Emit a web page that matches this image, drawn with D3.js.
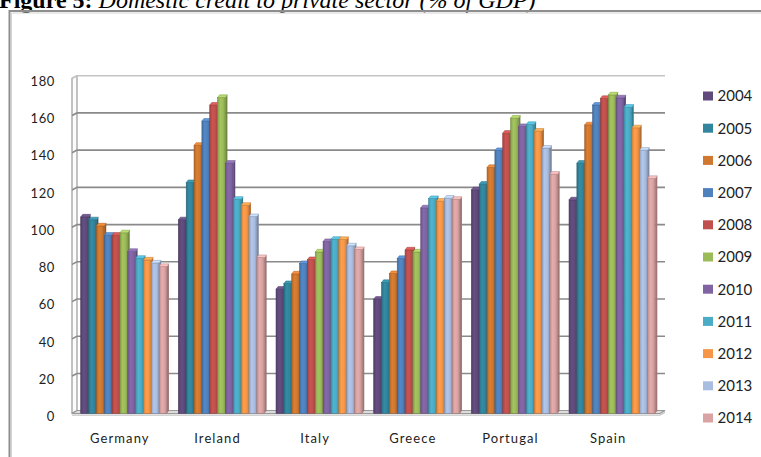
<!DOCTYPE html>
<html>
<head>
<meta charset="utf-8">
<script src="https://cdn.jsdelivr.net/npm/d3@7/dist/d3.min.js"></script>
<style>
  html, body { margin: 0; padding: 0; background: #fff; }
  svg { display: block; }
</style>
</head>
<body>
<svg id="chart" width="761" height="457"></svg>
<script>
// ---- data ----
const countries = ["Germany", "Ireland", "Italy", "Greece", "Portugal", "Spain"];
const years = ["2004", "2005", "2006", "2007", "2008", "2009", "2010", "2011", "2012", "2013", "2014"];
const germany  = [105.5, 104, 100.7, 95.7, 95.7, 97, 87, 83.3, 82.4, 80.8, 78.9];
const ireland  = [104, 124, 144, 157, 165.6, 169.7, 134.4, 115, 111.8, 105.7, 83.7];
const italy    = [66.7, 69.7, 74.9, 80.5, 82.6, 86.7, 92.3, 93.5, 93.4, 90, 88];
const greece   = [61.3, 70.3, 75.1, 83.2, 87.8, 86.7, 110.4, 115.4, 114, 115.6, 115];
const portugal = [120.1, 123.1, 132.1, 141.2, 150.5, 158.6, 154.1, 155.2, 151.6, 142.5, 128.5];
const spain    = [114.7, 134.4, 155, 165.6, 169.2, 171.1, 169.5, 164.5, 153.4, 141.4, 126.2];
const yTicks = [0, 20, 40, 60, 80, 100, 120, 140, 160, 180];
const colors = ["#604a7b", "#31859c", "#d0782f", "#4f81bd", "#c0504d", "#9bbb59",
                "#8064a2", "#4bacc6", "#f79646", "#a9bde0", "#daa3a3"];

const seriesByCountry = [germany, ireland, italy, greece, portugal, spain];
const rows = countries.map((c, i) => ({ country: c, values: seriesByCountry[i] }));

// ---- layout ----
const svg = d3.select("#chart");
const DX = 5, DY = -2.6;           // depth offset of back wall
const frontLeft = 72, backRight = 665;

const y = d3.scaleLinear().domain([0, 180]).range([413.3, 78.3]);
const x0 = d3.scaleBand().domain(countries).range([75, 661]).paddingInner(0.117).paddingOuter(0.0585);
const x1 = d3.scaleBand().domain(years).range([0, x0.bandwidth()]);
const color = d3.scaleOrdinal().domain(years).range(colors);

// ---- title ----
const title = svg.append("text")
  .attr("x", -1).attr("y", 7.5)
  .attr("font-family", "'Liberation Serif', 'Times New Roman', serif")
  .attr("font-size", 24).attr("fill", "#000");
title.append("tspan").attr("font-weight", "bold").text("Figure 5:");
title.append("tspan").attr("font-style", "italic").text(" Domestic credit to private sector (% of GDP)");

// ---- outer frame ----
svg.append("path").attr("d", "M9.5,470 V11 H780").attr("fill", "none")
  .attr("stroke", "#8e8e8e").attr("stroke-width", 2);
svg.append("path").attr("d", "M11.5,470 V13 H780").attr("fill", "none")
  .attr("stroke", "#d4d4d4").attr("stroke-width", 1);

// ---- defs: gradients ----
const defs = svg.append("defs");
colors.forEach((c, i) => {
  const g = defs.append("linearGradient").attr("id", "g" + i)
    .attr("x1", "0%").attr("x2", "100%").attr("y1", "0%").attr("y2", "0%");
  const base = d3.color(c);
  g.append("stop").attr("offset", "0%").attr("stop-color", base.darker(0.45));
  g.append("stop").attr("offset", "35%").attr("stop-color", base.brighter(0.15));
  g.append("stop").attr("offset", "70%").attr("stop-color", base);
  g.append("stop").attr("offset", "100%").attr("stop-color", base.darker(0.5));
});

// ---- walls ----
svg.append("path")
  .attr("d", `M${frontLeft},${y(0)} V${y(180)} L${frontLeft + DX},${y(180) + DY} V${y(0) + DY} Z`)
  .attr("fill", "#fbfbfb").attr("stroke", "#9a9a9a").attr("stroke-width", 1.2);
svg.append("path")
  .attr("d", `M${frontLeft},${y(0)} H${backRight - DX} L${backRight},${y(0) + DY} H${frontLeft + DX} Z`)
  .attr("fill", "#f2f2f2").attr("stroke", "#9a9a9a").attr("stroke-width", 1.2);
svg.append("path")
  .attr("d", `M${frontLeft},${y(0) + 1.8} H${backRight - DX} L${backRight},${y(0) + DY + 1.8}`)
  .attr("fill", "none").attr("stroke", "#b5b5b5").attr("stroke-width", 1);

// gridlines
svg.append("g").selectAll("path").data(yTicks.filter(v => v > 0)).join("path")
  .attr("d", v => `M${frontLeft},${y(v)} L${frontLeft + DX},${y(v) + DY} H${backRight}`)
  .attr("fill", "none")
  .attr("stroke", v => v === 180 ? "#c4c4c4" : "#8a8a8a")
  .attr("stroke-width", 1.6);

// ---- y axis labels ----
const yAxis = svg.append("g").attr("transform", "translate(55,3)")
  .call(d3.axisLeft(y).tickValues(yTicks).tickSize(0).tickPadding(0));
yAxis.select(".domain").remove();
yAxis.selectAll("text")
  .attr("font-family", "Lato, 'Open Sans', sans-serif").attr("font-size", 13)
  .attr("letter-spacing", 0.6).attr("fill", "#222");

// ---- bars ----
const BDX = 2, BDY = 2.6;
const groups = svg.append("g").selectAll("g").data(rows).join("g")
  .attr("transform", d => `translate(${x0(d.country)},0)`);

groups.each(function (row) {
  const g = d3.select(this);
  const bw = x1.bandwidth();
  row.values.forEach((v, i) => {
    const bx = x1(years[i]);
    const top = y(v);
    g.append("path")
      .attr("d", `M${bx + bw},${top} L${bx + bw + BDX},${top - BDY} V${y(0) - BDY} L${bx + bw},${y(0)} Z`)
      .attr("fill", d3.color(colors[i]).darker(0.9));
    g.append("rect")
      .attr("x", bx).attr("y", top).attr("width", bw).attr("height", y(0) - top)
      .attr("fill", `url(#g${i})`)
      .attr("stroke", d3.color(colors[i]).darker(0.8)).attr("stroke-width", 0.6);
    g.append("path")
      .attr("d", `M${bx},${top} H${bx + bw} L${bx + bw + BDX},${top - BDY} H${bx + BDX} Z`)
      .attr("fill", d3.color(colors[i]).brighter(0.5))
      .attr("stroke", d3.color(colors[i]).darker(0.6)).attr("stroke-width", 0.5);
  });
});

// ---- x axis labels ----
const xAxis = svg.append("g").attr("transform", "translate(-4,434)")
  .call(d3.axisBottom(x0).tickSize(0).tickPadding(0));
xAxis.select(".domain").remove();
xAxis.selectAll("text")
  .attr("font-family", "Lato, 'Open Sans', sans-serif").attr("font-size", 13)
  .attr("letter-spacing", 1.1).attr("fill", "#222");

// ---- legend ----
const legend = svg.append("g").selectAll("g").data(years).join("g")
  .attr("transform", (d, i) => `translate(703,${96 + i * 32.2})`);
legend.append("rect").attr("x", 0).attr("y", -4.5).attr("width", 10).attr("height", 9)
  .attr("fill", d => color(d));
legend.append("text").attr("x", 14.5).attr("y", 0).attr("dy", "0.36em")
  .attr("font-family", "Lato, 'Open Sans', sans-serif").attr("font-size", 15)
  .attr("fill", "#222").text(d => d);
</script>
</body>
</html>
